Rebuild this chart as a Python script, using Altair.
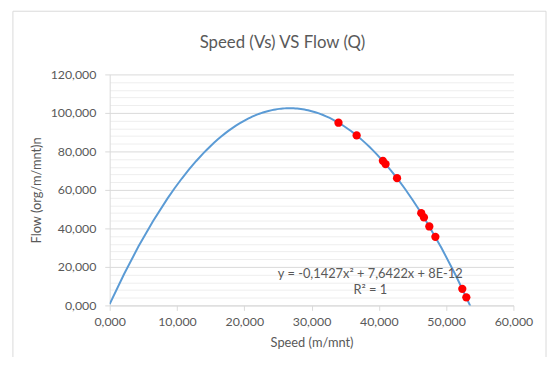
import altair as alt
import pandas as pd

# ---- data (speed and flow in thousands) ----
speed = [34.0, 36.7, 40.6, 41.0, 42.7, 46.3, 46.7, 47.5, 48.4, 52.4, 53.0]
flow = [94.9, 88.3, 75.1, 73.4, 66.1, 47.9, 45.7, 41.0, 35.6, 8.6, 4.2]
x_ticks = [0, 10, 20, 30, 40, 50, 60]
y_ticks = [0, 20, 40, 60, 80, 100, 120]
y_minor = [4, 8, 12, 16, 24, 28, 32, 36, 44, 48, 52, 56, 64, 68, 72, 76,
           84, 88, 92, 96, 104, 108, 112, 116]
chart_title = "Speed (Vs) VS Flow (Q)"
x_title = "Speed (m/mnt)"
y_title = "Flow (org/m/mnt)n"
equation = "y = -0,1427x² + 7,6422x + 8E-12"
r_squared = "R² = 1"
trend_extent = [0, 53.6]

df = pd.DataFrame({"speed": speed, "flow": flow})
label_fmt = "replace(format(datum.value, '.3f'), '.', ',')"

FONT = "Lato"
GREY = "#595959"
W, H = 409, 234

xscale = alt.Scale(domain=[0, 60], nice=False, zero=False)
yscale = alt.Scale(domain=[0, 120], nice=False)

x_enc = alt.X("speed:Q", scale=xscale,
              axis=alt.Axis(values=x_ticks, grid=False, labelExpr=label_fmt,
                            title=x_title, tickSize=5, labelPadding=5,
                            labelFlush=False, titlePadding=9))

base = alt.Chart(df)

frame = alt.Chart(pd.DataFrame({"k": [0]})).mark_rect(
    fillOpacity=0, stroke="#d9d9d9", strokeWidth=1
).encode(
    x=alt.value(-98), x2=alt.value(442), y=alt.value(-64), y2=alt.value(320)
)

minor = base.mark_point(opacity=0).encode(
    x=x_enc,
    y=alt.Y("flow:Q", scale=yscale,
            axis=alt.Axis(values=y_minor, grid=True, gridColor="#eeeeee",
                          labels=False, ticks=False, domain=False,
                          title=None, orient="left")),
)

trend = base.transform_regression(
    "speed", "flow", method="poly", order=2, extent=trend_extent
).mark_line(color="#5B9BD5", strokeWidth=2, clip=True).encode(
    x=x_enc,
    y=alt.Y("flow:Q", scale=yscale,
            axis=alt.Axis(values=y_ticks, grid=True, labelExpr=label_fmt,
                          title=y_title, tickSize=5, labelPadding=9,
                          labelFlush=False, titlePadding=7, orient="left")),
)

points = base.mark_circle(color="#FF0000", size=70, opacity=1).encode(
    x=x_enc,
    y=alt.Y("flow:Q", scale=yscale, axis=None),
)

eq = alt.Chart(pd.DataFrame({"t": [equation + "\n" + r_squared]})).mark_text(
    font=FONT, fontSize=13, color=GREY, lineBreak="\n", lineHeight=16,
    align="center", baseline="top"
).encode(text="t:N", x=alt.value(264), y=alt.value(196))

title_txt = alt.Chart(pd.DataFrame({"t": [chart_title]})).mark_text(
    font=FONT, fontSize=17, color=GREY, align="center", baseline="alphabetic"
).encode(text="t:N", x=alt.value(175), y=alt.value(-27))

chart = alt.layer(frame, minor, trend, points, eq, title_txt).resolve_axis(
    y="independent"
).properties(
    width=W, height=H,
    autosize=alt.AutoSizeParams(type="none"),
    padding={"left": 103, "top": 65, "right": 34, "bottom": 50},
).configure_view(stroke=None).configure_axis(
    domainColor="#d9d9d9", tickColor="#d9d9d9", gridColor="#d9d9d9",
    labelColor=GREY, titleColor=GREY, labelFont=FONT, titleFont=FONT,
    labelFontSize=12.5, titleFontSize=13, titleFontWeight="normal",
)

chart.save("out.html", embed_options={"renderer": "svg", "actions": False})
